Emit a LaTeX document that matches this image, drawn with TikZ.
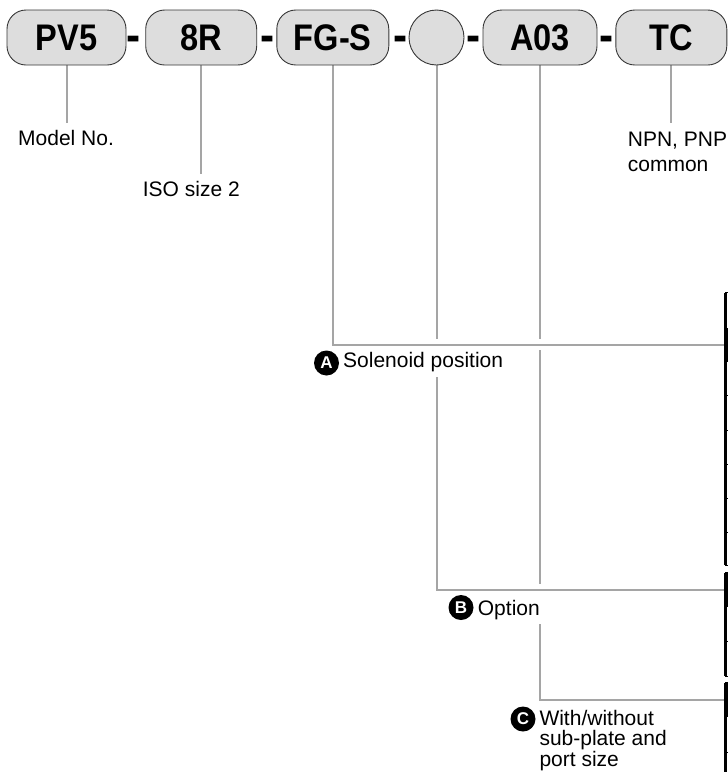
\documentclass[tikz,border=0pt]{standalone}
\usepackage{fontspec}
\setmainfont{Liberation Sans}
\newfontfamily\boxfont[FakeStretch=0.88]{Liberation Sans}
\usetikzlibrary{calc}
\definecolor{conngray}{RGB}{165,165,165}
\definecolor{boxfill}{RGB}{221,221,221}
\definecolor{boxline}{RGB}{55,55,55}
\begin{document}
\begin{tikzpicture}[x=1pt,y=-1pt,
  codebox/.style={draw=boxline, fill=boxfill, line width=0.9pt, rounded corners=19pt,
    minimum height=55pt, inner sep=0pt, font=\boxfont\bfseries\fontsize{37}{37}\selectfont},
  codecirc/.style={draw=boxline, fill=boxfill, line width=0.9pt, circle, minimum size=55pt, inner sep=0pt},
  sepdash/.style={font=\boxfont\bfseries\fontsize{48}{48}\selectfont, inner sep=0pt, anchor=base},
  connector/.style={draw=conngray, line width=2pt},
  halo/.style={preaction={draw=white, line width=11pt}},
  lbl/.style={font=\fontsize{21}{25}\selectfont, inner sep=0pt, anchor=base west, align=left},
  clbl/.style={font=\fontsize{21}{20.5}\selectfont, inner sep=0pt, anchor=base west, align=left},
  cover/.style={fill=white, inner xsep=3pt, inner ysep=5pt},
  badge/.style={circle, fill=black, text=white, minimum size=25pt, inner sep=0pt,
    font=\bfseries\fontsize{17}{17}\selectfont},
  header/.style={fill=black, inner sep=0pt, anchor=north west, minimum width=20pt},
  tableline/.style={draw=black, line width=1pt},
  tableborder/.style={draw=black, line width=3pt}
]
\useasboundingbox (0,0) rectangle (728,772);
\clip (0,0) rectangle (728,772);

% table header cells (clipped at right edge)
\node[header, minimum height=34.4pt] (h1) at (725.5,327.3) {};
\node[header, minimum height=34pt] (h2) at (725.5,572.7) {};
\node[header, minimum height=34pt] (h3) at (725.5,682.7) {};

% code box positions (anchors only; boxes drawn on top later)
\path (66.5,37.5) node[codebox, minimum width=119pt, draw=none, fill=none] (pv5) {\phantom{PV5}};
\path (201.2,37.5) node[codebox, minimum width=111pt, draw=none, fill=none] (r8) {\phantom{8R}};
\path (332.8,37.5) node[codebox, minimum width=112pt, draw=none, fill=none] (fgs) {\phantom{FG-S}};
\path (436.5,37.5) node[codecirc, draw=none, fill=none] (opt) {};
\path (540,37.5) node[codebox, minimum width=114pt, draw=none, fill=none] (a03) {\phantom{A03}};
\path (671.3,37.5) node[codebox, minimum width=111pt, draw=none, fill=none] (tc) {\phantom{TC}};

% simple labels
\node[lbl] (model) at (18,145) {Model No.};
\node[lbl] (iso) at (142.7,196.7) {ISO size 2};
\node[lbl] (npn) at (627.7,171.7) {NPN, PNP\\common};

% connectors
\draw[connector, shorten >=7pt] (pv5.south) -- (pv5.south |- model.north);
\draw[connector, shorten >=7pt] (r8.south) -- (r8.south |- iso.north);
\draw[connector, shorten >=9pt] (tc.south) -- (tc.south |- npn.north);
\draw[connector] (a03.south) |- (h3.west);
\draw[connector, halo] (opt.south) |- (h2.west);
\draw[connector, halo] (fgs.south) |- (h1.west);

% code boxes on top
\node[codebox, minimum width=119pt] (pv5b) at (pv5) {PV5};
\node[codebox, minimum width=111pt] (r8b) at (r8) {8R};
\node[codebox, minimum width=112pt] (fgsb) at (fgs) {FG-S};
\node[codecirc] (optb) at (opt) {};
\node[codebox, minimum width=114pt] (a03b) at (a03) {A03};
\node[codebox, minimum width=111pt] (tcb) at (tc) {TC};

% dashes
\node[sepdash] (d1) at (133.3,51) {-};
\node[sepdash] (d2) at (267.5,51) {-};
\node[sepdash] (d3) at (400.2,51) {-};
\node[sepdash] (d4) at (473.2,51) {-};
\node[sepdash] (d5) at (606.5,51) {-};

% badge labels
\node[badge] (ba) at (326.5,363) {A};
\node[lbl, cover] (la) at (340,367.5) {Solenoid position};
\node[badge] (bb) at (461,607.5) {B};
\node[lbl, cover] (lb) at (474.7,615) {Option};
\node[badge] (bc) at (523,719) {C};
\node[clbl] (lc) at (539.3,766) {With/without\\sub-plate and\\port size};

% tables (clipped at right edge)
\draw[tableline] (725.5,292.7) rectangle (760,565);
\foreach \yy in {395.7,430,464,498,532} \draw[tableline] (725.5,\yy) -- (760,\yy);
\draw[tableborder] (725.8,292.7) -- (725.8,565);
\draw[tableline] (725.5,572.7) rectangle (760,676);
\draw[tableline] (725.5,641) -- (760,641);
\draw[tableborder] (725.8,572.7) -- (725.8,676);
\draw[tableline] (725.5,682.7) rectangle (760,800);
\draw[tableline] (725.5,752.7) -- (760,752.7);
\draw[tableborder] (725.8,682.7) -- (725.8,800);
\end{tikzpicture}
\end{document}
